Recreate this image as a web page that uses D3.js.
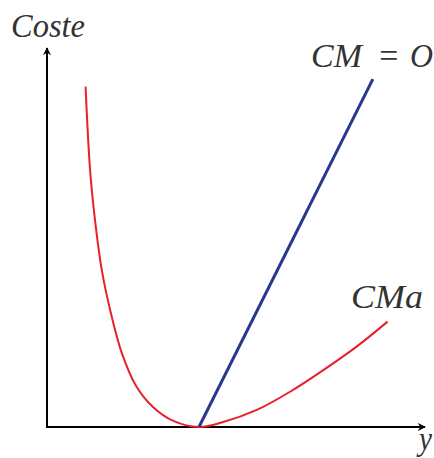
<!DOCTYPE html>
<html><head><meta charset="utf-8">
<script src="https://cdn.jsdelivr.net/npm/d3@7"></script>
<style>body{margin:0;background:#fff}text{font-family:"Liberation Serif",serif;font-style:italic;fill:#333}</style>
</head><body><svg id="c" width="434" height="458"></svg>
<script>
// Data (arbitrary units)
const cmaX = [1.02, 1.14, 1.27, 1.45, 1.67, 1.98, 2.37, 2.81, 3.34, 4.02, 4.66, 5.55, 6.43, 7.31, 8.19, 9.01];
const cmaY = [8.98, 6.78, 5.46, 4.14, 3.09, 1.95, 1.06, 0.52, 0.16, 0.00, 0.13, 0.45, 0.93, 1.50, 2.12, 2.78];
const cmX = [4.02, 8.62];
const cmY = [0.00, 9.18];
const labels = ["Coste", "y", "CMa"];

const svg = d3.select("#c");
const x = d3.scaleLinear().domain([0, 10]).range([47, 425]);
const y = d3.scaleLinear().domain([0, 10]).range([427, 48]);

const defs = svg.append("defs");
defs.append("marker").attr("id","arr").attr("viewBox","0 0 10 10").attr("refX",9).attr("refY",5)
  .attr("markerWidth",8).attr("markerHeight",8).attr("markerUnits","userSpaceOnUse").attr("orient","auto")
  .append("path").attr("d","M0,0 L10,5 L0,10 L3,5 Z").attr("fill","#000");

// axes
svg.append("line").attr("x1",x(0)).attr("y1",y(0)).attr("x2",x(10)).attr("y2",y(0))
  .attr("stroke","#000").attr("stroke-width",2).attr("marker-end","url(#arr)");
svg.append("line").attr("x1",x(0)).attr("y1",y(0)+1).attr("x2",x(0)).attr("y2",y(10))
  .attr("stroke","#000").attr("stroke-width",2).attr("marker-end","url(#arr)");

const line = d3.line().x(d=>x(d[0])).y(d=>y(d[1])).curve(d3.curveCatmullRom.alpha(0.5));
svg.append("path").datum(cmaX.map((v,i)=>[v,cmaY[i]])).attr("d",line)
  .attr("fill","none").attr("stroke","#e8202a").attr("stroke-width",2);
svg.append("path").datum(cmX.map((v,i)=>[v,cmY[i]])).attr("d",d3.line().x(d=>x(d[0])).y(d=>y(d[1])))
  .attr("fill","none").attr("stroke","#2b3592").attr("stroke-width",3);

function lab(tx, ty, w, s, upright){
  const t = svg.append("text").attr("x",tx).attr("y",ty).attr("font-size",34)
    .attr("textLength",w).attr("lengthAdjust","spacingAndGlyphs").text(s);
  if (upright) t.attr("font-style","normal");
}
lab(11, 37, 74, labels[0]);
lab(419, 450, 13, labels[1]);
lab(351, 308, 72, labels[2]);
lab(311, 67, 51, "CM");
lab(377, 67, 23, "=", true);
lab(410, 67, 23, "O");
</script></body></html>
